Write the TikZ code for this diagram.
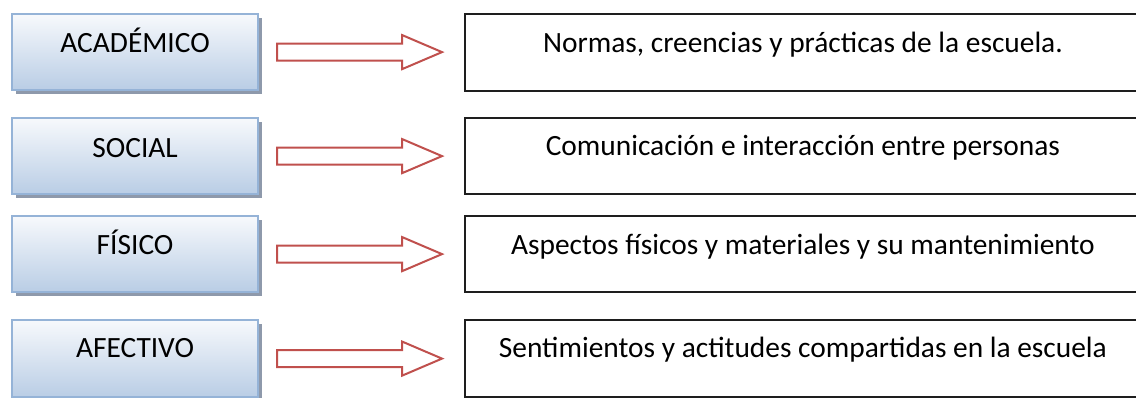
\documentclass[tikz,border=0pt]{standalone}
\usepackage{fontspec}
\setmainfont{Carlito}
\usetikzlibrary{calc,shadows}
\definecolor{boxline}{HTML}{95B3D7}
\definecolor{boxtop}{HTML}{F7F9FC}
\definecolor{boxbot}{HTML}{B9CDE5}
\definecolor{shadowc}{HTML}{8E99AB}
\definecolor{arrowred}{HTML}{C0504D}
\definecolor{darkline}{HTML}{1E1E1E}
\tikzset{
  catbox/.style={draw=boxline, line width=2.2pt, top color=boxtop, bottom color=boxbot,
    general shadow={fill=shadowc, shadow xshift=4pt, shadow yshift=-4pt},
    minimum width=246pt, minimum height=76pt, inner sep=0pt, anchor=north west},
  descbox/.style={draw=darkline, line width=1.8pt, fill=white,
    minimum width=676pt, minimum height=77pt, inner sep=0pt, anchor=north west},
  lbl/.style={inner sep=0pt, anchor=base, font=\fontsize{29.4pt}{34pt}\selectfont},
  blockarr/.style={draw=arrowred, line width=2pt, fill=white, line join=miter},
}
% block arrow from the box #1 towards the box #2
\newcommand{\mkarrow}[2]{%
  \draw[blockarr] ($(#1.east)+(18,-8.5)$) -- ++(125,0) -- ++(0,-8.5)
    -- ($(#2.west|-#1.east)+(-22,0)$) -- ($(#1.east)+(143,17)$) -- ++(0,-8.5)
    -- ++(-125,0) -- cycle;}
\begin{document}
\begin{tikzpicture}[x=1pt,y=-1pt]
\clip (0,0) rectangle (1136,397);
\fill[white] (0,0) rectangle (1136,397);
% category boxes
\path (11,13) node[catbox] (c1) {};
\path (11,117) node[catbox] (c2) {};
\path (11,215) node[catbox] (c3) {};
\path (11,319) node[catbox,minimum height=77pt] (c4) {};
% description boxes
\path (464,13) node[descbox] (d1) {};
\path (464,117) node[descbox,minimum height=76pt] (d2) {};
\path (464,215) node[descbox,minimum height=76pt] (d3) {};
\path (464,319) node[descbox] (d4) {};
% labels
\node[lbl] (t1) at ($(c1.north)+(0,39)$) {ACADÉMICO};
\node[lbl] (t2) at ($(c2.north)+(0,40)$) {SOCIAL};
\node[lbl] (t3) at ($(c3.north)+(0,39)$) {FÍSICO};
\node[lbl] (t4) at ($(c4.north)+(0,38)$) {AFECTIVO};
\node[lbl] (u1) at ($(d1.north)+(0,39)$) {Normas, creencias y prácticas de la escuela.};
\node[lbl] (u2) at ($(d2.north)+(0,38)$) {Comunicación e interacción entre personas};
\node[lbl] (u3) at ($(d3.north)+(0,39)$) {Aspectos físicos y materiales y su mantenimiento};
\node[lbl] (u4) at ($(d4.north)+(0,38)$) {Sentimientos y actitudes compartidas en la escuela};
% arrows
\mkarrow{c1}{d1}
\mkarrow{c2}{d2}
\mkarrow{c3}{d3}
\mkarrow{c4}{d4}
\end{tikzpicture}
\end{document}
